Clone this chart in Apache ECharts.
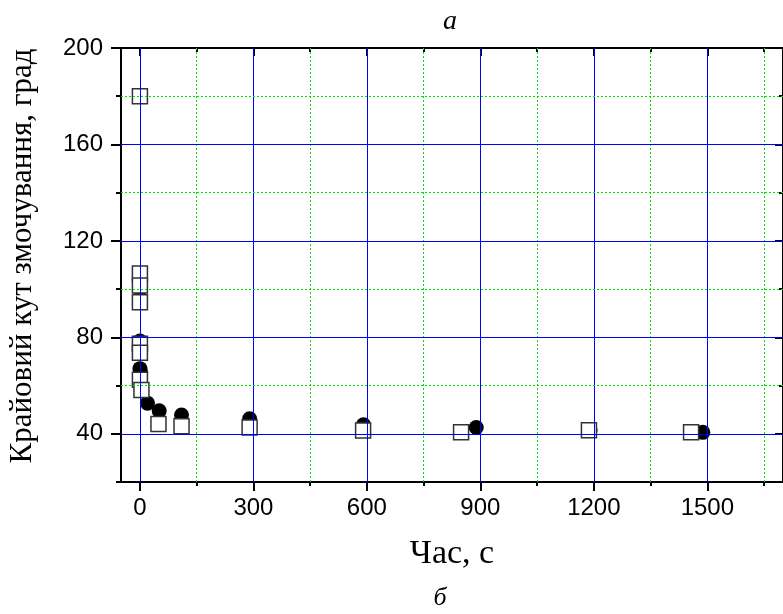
<!DOCTYPE html>
<html>
<head>
<meta charset="utf-8">
<script src="https://cdn.jsdelivr.net/npm/echarts@6/dist/echarts.min.js"></script>
<style>
  html, body { margin: 0; padding: 0; background: #fff; }
  #main { width: 783px; height: 614px; }
</style>
</head>
<body>
<div id="main"></div>
<script>
// data
var circleX = [0, 0, 0, 2, 20, 51, 110, 290, 591, 889, 1190, 1488];
var circleY = [100, 78.5, 67, 65.5, 52.7, 49.5, 47.8, 46.2, 43.7, 42.6, 41.5, 40.6];
var squareX = [0, 0, 0, 0, 0, 0, 0, 4, 49, 110, 290, 590, 849, 1187, 1457];
var squareY = [180, 106.5, 101.5, 94.5, 77.3, 73.6, 62.4, 58.2, 44.1, 43.1, 42.6, 41.4, 40.6, 41.5, 40.6];

var xMajor = [0, 300, 600, 900, 1200, 1500];
var xMinor = [150, 450, 750, 1050, 1350, 1650];
var yMajor = [40, 80, 120, 160, 200];
var yMinor = [20, 60, 100, 140, 180];

function pairs(xs, ys) {
    var out = [];
    for (var i = 0; i < xs.length; i++) out.push([xs[i], ys[i]]);
    return out;
}

var black = '#000';
var blueStyle = { color: '#0000ff', width: 1, type: 'solid' };
var greenStyle = { color: '#00dd00', width: 1, type: [2, 2] };

// grid lines as mark lines at tick values
var gridLines = [];
xMajor.forEach(function (v) { gridLines.push({ xAxis: v, lineStyle: blueStyle }); });
xMinor.forEach(function (v) { if (v < 1700) gridLines.push({ xAxis: v, lineStyle: greenStyle }); });
yMajor.forEach(function (v) { if (v < 200) gridLines.push({ yAxis: v, lineStyle: blueStyle }); });
yMinor.forEach(function (v) { if (v > 20) gridLines.push({ yAxis: v, lineStyle: greenStyle }); });

var labelFont = { color: '#000', fontSize: 24, fontFamily: 'Liberation Sans, Arial' };

function xAx(pos, ticks, len, inside, showLine, label) {
    return {
        type: 'value', position: pos, min: -50, max: 1700,
        axisLine: { show: showLine, onZero: false, lineStyle: { color: black, width: 2 } },
        axisTick: { show: true, inside: inside, length: len, customValues: ticks,
            lineStyle: { color: black, width: 2 } },
        axisLabel: label ? Object.assign({ show: true, customValues: ticks, margin: 14,
            formatter: function (v) { return String(v); } }, labelFont) : { show: false },
        splitLine: { show: false },
        minorSplitLine: { show: false }
    };
}
function yAx(pos, ticks, len, inside, showLine, label) {
    return {
        type: 'value', position: pos, min: 20, max: 200,
        axisLine: { show: showLine, onZero: false, lineStyle: { color: black, width: 2 } },
        axisTick: { show: true, inside: inside, length: len, customValues: ticks,
            lineStyle: { color: black, width: 2 } },
        axisLabel: label ? Object.assign({ show: true, customValues: ticks, margin: 18 }, labelFont)
            : { show: false },
        splitLine: { show: false },
        minorSplitLine: { show: false }
    };
}

var serif = 'Liberation Serif, Times New Roman';

var option = {
    backgroundColor: '#fff',
    animation: false,
    grid: { left: 121, top: 48, width: 666, height: 434 },
    xAxis: [
        xAx('bottom', xMajor, 9, false, true, true),
        xAx('bottom', xMinor, 4, false, false, false),
        xAx('top', xMajor, 8, true, true, false),
        xAx('top', xMinor, 4, true, false, false)
    ],
    yAxis: [
        yAx('left', yMajor, 10, false, true, true),
        yAx('left', yMinor, 5, false, false, false),
        yAx('right', yMajor, 8, true, true, false),
        yAx('right', yMinor, 4, true, false, false)
    ],
    graphic: [
        { type: 'text', x: 450, y: 22, style: { text: 'a', fontSize: 28, fontStyle: 'italic',
            fontFamily: serif, fill: '#000', align: 'center', verticalAlign: 'middle' } },
        { type: 'text', x: 452, y: 554, style: { text: 'Час, с', fontSize: 34,
            fontFamily: serif, fill: '#000', align: 'center', verticalAlign: 'middle' } },
        { type: 'text', x: 440, y: 598, style: { text: 'б', fontSize: 26, fontStyle: 'italic',
            fontFamily: serif, fill: '#000', align: 'center', verticalAlign: 'middle' } },
        { type: 'text', x: 23, y: 256, rotation: Math.PI / 2, style: { text: 'Крайовий кут змочування, град',
            fontSize: 31, fontFamily: serif, fill: '#000', align: 'center', verticalAlign: 'middle' } }
    ],
    series: [
        {
            name: 'grid', type: 'scatter', data: [], z: 1, silent: true,
            markLine: { silent: true, symbol: 'none', label: { show: false },
                animation: false, data: gridLines }
        },
        {
            name: 'circles', type: 'scatter', symbol: 'circle', symbolSize: 15,
            itemStyle: { color: '#000', opacity: 1 },
            data: pairs(circleX, circleY), z: 3
        },
        {
            name: 'squares', type: 'scatter', symbol: 'rect', symbolSize: 15,
            itemStyle: { color: '#fff', borderColor: '#333', borderWidth: 1.5, opacity: 1 },
            data: pairs(squareX, squareY), z: 4
        }
    ]
};

var myChart = echarts.init(document.getElementById('main'));
myChart.setOption(option);
</script>
</body>
</html>
